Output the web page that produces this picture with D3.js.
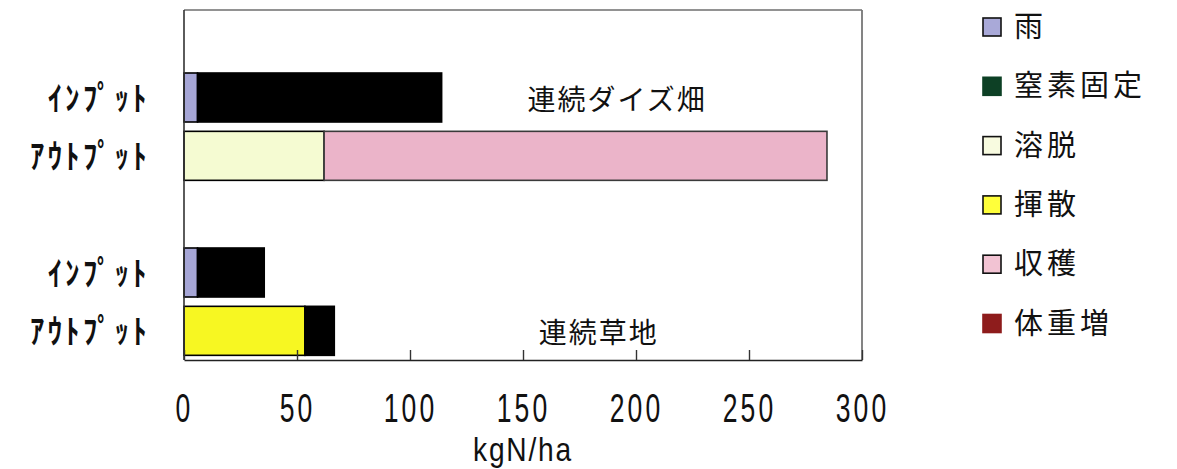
<!DOCTYPE html>
<html>
<head>
<meta charset="utf-8">
<script src="https://cdn.jsdelivr.net/npm/d3@7"></script>
<style>
  html, body { margin: 0; padding: 0; background: #fff; }
  svg { display: block; }
</style>
</head>
<body>
<svg id="chart" width="1177" height="469"></svg>
<script>
// Nitrogen balance of a continuous soybean field and a continuous grassland (kgN/ha)
const rowIds    = ["top", "soyIn", "soyOut", "gap", "grassIn", "grassOut"];
const rowLabels = ["", "ｲﾝﾌﾟｯﾄ", "ｱｳﾄﾌﾟｯﾄ", "", "ｲﾝﾌﾟｯﾄ", "ｱｳﾄﾌﾟｯﾄ"];

const seriesNames   = ["雨", "窒素固定", "溶脱", "揮散", "収穫", "体重増"];
const legendColors  = ["#a9a9d8", "#0d4025", "#f8fbe0", "#ffff3a", "#f2c3d3", "#8e1c1c"];
const barColors     = ["#a6a6d6", "#000000", "#f5fbd2", "#f7f722", "#ebb4c9", "#000000"];

// one array per series, indexed like rowIds
const rain      = [0, 6,   0,  0, 6,    0];
const fixation  = [0, 108, 0,  0, 29.5, 0];
const leaching  = [0, 0,   62, 0, 0,    0];
const volatil   = [0, 0,   0,  0, 0,    53.5];
const harvest   = [0, 0,   222.5, 0, 0, 0];
const weightGain= [0, 0,   0,  0, 0,    13];
const seriesValues = [rain, fixation, leaching, volatil, harvest, weightGain];

const xTicks = [0, 50, 100, 150, 200, 250, 300];
const xTitle = "kgN/ha";
const notes = [
  { text: "連続ダイズ畑", x: 152, row: "soyIn" },
  { text: "連続草地",     x: 157, row: "grassOut" }
];

const svg = d3.select("#chart");
const plot = { left: 184, right: 862, top: 10, bottom: 360 };

const x = d3.scaleLinear().domain([0, 300]).range([plot.left, plot.right]);
const y = d3.scaleBand().domain(rowIds).range([plot.top, plot.bottom])
  .paddingInner(0.16).paddingOuter(0.08);

// stacked segments
const segments = [];
rowIds.forEach((id, ri) => {
  let acc = 0;
  seriesValues.forEach((vals, si) => {
    const v = vals[ri];
    if (v > 0) {
      segments.push({ row: id, s: si, x0: acc, x1: acc + v });
      acc += v;
    }
  });
});

svg.append("g").selectAll("rect").data(segments).join("rect")
  .attr("x", d => x(d.x0))
  .attr("y", d => y(d.row))
  .attr("width", d => x(d.x1) - x(d.x0))
  .attr("height", y.bandwidth())
  .attr("fill", d => barColors[d.s])
  .attr("stroke", d => d.s === 4 ? "#3a3a3a" : "#000")
  .attr("stroke-width", 1.6);

// frame
const frame = svg.append("g").attr("fill", "none");
frame.append("line").attr("x1", plot.left).attr("x2", plot.right)
  .attr("y1", plot.top).attr("y2", plot.top).attr("stroke", "#6e6e6e").attr("stroke-width", 1.5);
frame.append("line").attr("x1", plot.right).attr("x2", plot.right)
  .attr("y1", plot.top).attr("y2", plot.bottom).attr("stroke", "#777").attr("stroke-width", 1.8);
frame.append("line").attr("x1", plot.left).attr("x2", plot.left)
  .attr("y1", plot.top).attr("y2", plot.bottom).attr("stroke", "#333").attr("stroke-width", 1.6);

// x axis: ticks point inward, narrow tall digits below
const xAxis = d3.axisBottom(x).tickValues(xTicks).tickSizeInner(-10).tickSizeOuter(0);
const gx = svg.append("g").attr("transform", `translate(0,${plot.bottom})`).call(xAxis);
gx.select(".domain").attr("stroke", "#222").attr("stroke-width", 1.6);
gx.selectAll(".tick line").attr("stroke", "#333").attr("stroke-width", 1.4);
gx.selectAll(".tick text")
  .attr("y", 0).attr("dy", 0)
  .attr("transform", "translate(0,62) scale(0.78,1.18)")
  .attr("font-family", "'Liberation Sans', 'DejaVu Sans', sans-serif")
  .attr("font-size", 34).attr("fill", "#111").attr("letter-spacing", 4);

svg.append("text")
  .attr("transform", `translate(${(plot.left + plot.right) / 2},461) scale(0.88,1.05)`)
  .attr("text-anchor", "middle")
  .attr("font-family", "'Liberation Sans', 'DejaVu Sans', sans-serif")
  .attr("font-size", 32).attr("fill", "#111").attr("letter-spacing", 2)
  .text(xTitle);

// row labels
svg.append("g").selectAll("text").data(rowIds.filter((d, i) => rowLabels[i])).join("text")
  .attr("transform", d => `translate(150,${y(d) + y.bandwidth() / 2 + 12}) scale(0.86,1)`)
  .attr("text-anchor", "end")
  .attr("font-family", "'Noto Sans CJK JP', sans-serif")
  .attr("font-weight", 700)
  .attr("font-size", 33)
  .attr("letter-spacing", 4)
  .attr("fill", "#111")
  .text(d => rowLabels[rowIds.indexOf(d)]);

// in-plot annotations
svg.append("g").selectAll("text").data(notes).join("text")
  .attr("x", d => x(d.x))
  .attr("y", d => y(d.row) + y.bandwidth() / 2 + 12)
  .attr("font-family", "'Noto Sans CJK JP', sans-serif")
  .attr("font-size", 28)
  .attr("letter-spacing", 2)
  .attr("fill", "#111")
  .text(d => d.text);

// legend
const legend = svg.append("g");
const legItems = legend.selectAll("g").data(seriesNames).join("g")
  .attr("transform", (d, i) => `translate(983,${27 + i * 59.3})`);
legItems.append("rect")
  .attr("x", 0).attr("y", -9).attr("width", 18).attr("height", 18)
  .attr("fill", (d, i) => legendColors[i])
  .attr("stroke", (d, i) => (i === 1 || i === 5) ? legendColors[i] : "#111")
  .attr("stroke-width", 1.6);
legItems.append("text")
  .attr("x", 31).attr("y", 10)
  .attr("font-family", "'Noto Sans CJK JP', sans-serif")
  .attr("font-size", 29)
  .attr("letter-spacing", 4)
  .attr("fill", "#111")
  .text(d => d);
</script>
</body>
</html>
